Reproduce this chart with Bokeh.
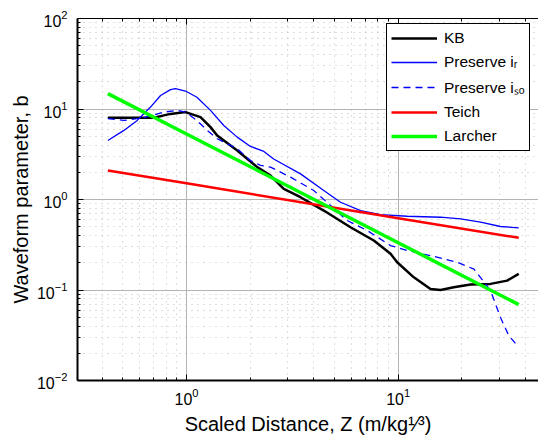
from bokeh.plotting import figure
from bokeh.models import (LogAxis, FixedTicker, LogTickFormatter, Legend, LegendItem, Range1d)
from bokeh.embed import file_html
from bokeh.resources import INLINE

# ---- data ----
kb_z = [0.425, 0.701, 0.782, 0.840, 0.989, 1.164, 1.298, 1.396, 1.736, 2.158, 2.494, 2.88,
        3.456, 4.45, 5.95, 7.67, 9.20, 9.89, 11.85, 14.21, 15.85, 18.31, 21.95, 27.29, 32.7, 37.1]
kb_b = [8.01, 8.0, 8.5, 8.83, 9.24, 8.13, 6.31, 5.10, 3.48, 2.28, 1.84, 1.31,
        1.06, 0.755, 0.494, 0.352, 0.251, 0.2025, 0.138, 0.1028, 0.100, 0.107, 0.1148, 0.1168, 0.127, 0.1507]

ir_z = [0.425, 0.506, 0.585, 0.676, 0.754, 0.840, 0.887, 0.989, 1.12, 1.298, 1.50, 1.736,
        2.005, 2.32, 2.58, 3.456, 4.45, 5.34, 6.64, 8.25, 11.03, 15.85, 19.7, 24.5, 30.4, 37.1]
ir_b = [4.49, 5.80, 7.48, 10.5, 14.1, 16.35, 16.8, 15.8, 13.5, 9.65, 6.58, 4.89,
        3.86, 3.40, 2.80, 1.92, 1.258, 0.933, 0.755, 0.682, 0.653, 0.637, 0.612, 0.561, 0.503, 0.486]

iso_z = [0.425, 0.506, 0.629, 0.782, 0.904, 0.989, 1.12, 1.252, 1.396, 1.736, 2.005, 2.237,
         2.494, 3.10, 3.99, 4.79, 5.74, 7.14, 9.20, 11.03, 14.21, 19.0, 22.8, 27.3, 30.4, 33.3, 37.1]
iso_b = [7.81, 7.48, 8.01, 9.24, 9.65, 9.24, 7.48, 5.80, 4.69, 3.64, 2.70, 2.38,
         2.28, 1.765, 1.258, 0.858, 0.586, 0.454, 0.310, 0.273, 0.240, 0.2025, 0.17, 0.0985, 0.0499, 0.0313, 0.0233]

teich_z = [0.425, 1.0, 10.0, 37.1]
teich_b = [2.09, 1.51, 0.622, 0.377]

larcher_z = [0.425, 1.0, 10.0, 37.1]
larcher_b = [14.8, 5.3, 0.333, 0.069]

x_major = [0.1, 1, 10, 100]
y_major = [0.01, 0.1, 1, 10, 100]
legend_labels = ["KB", "Preserve i\u1d63", "Preserve i\u209b\u2092", "Teich", "Larcher"]
x_label = "Scaled Distance, Z (m/kg\u00b9\u2044\u00b3)"
y_label = "Waveform parameter, b"

FONT = "Liberation Sans"

def minors(majors):
    return [m * k for m in majors for k in range(2, 10)]

p = figure(width=538, height=443, x_axis_type="log", y_axis_type="log",
           x_range=Range1d(0.3055, 46.0), y_range=Range1d(0.01, 100),
           output_backend="svg", toolbar_location=None,
           min_border_left=77, min_border_right=0, min_border_top=18, min_border_bottom=63)
p.outline_line_color = None
p.background_fill_color = "white"
p.border_fill_color = "white"

xt = FixedTicker(ticks=x_major, minor_ticks=minors(x_major))
yt = FixedTicker(ticks=y_major, minor_ticks=minors(y_major))

for ax, t in ((p.xaxis[0], xt), (p.yaxis[0], yt)):
    ax.ticker = t
    ax.formatter = LogTickFormatter()
    ax.axis_line_width = 2
    ax.axis_line_color = "black"
    ax.major_tick_in = 6
    ax.major_tick_out = 0
    ax.minor_tick_in = 3
    ax.minor_tick_out = 0
    ax.major_tick_line_color = "black"
    ax.minor_tick_line_color = "black"
    ax.major_label_text_font = FONT
    ax.major_label_text_font_size = "16px"
    ax.major_label_text_color = "black"
    ax.axis_label_text_font = FONT
    ax.axis_label_text_font_size = "20px"
    ax.axis_label_text_font_style = "normal"
    ax.axis_label_text_color = "black"

p.xaxis.major_label_standoff = 7
p.yaxis.major_label_standoff = 10
p.xaxis.axis_label = x_label
p.xaxis.axis_label_standoff = 5
p.yaxis.axis_label = y_label
p.yaxis.axis_label_standoff = 2

top = LogAxis(ticker=xt, formatter=LogTickFormatter(), axis_line_width=1, axis_line_color="black",
              major_tick_in=6, major_tick_out=0, minor_tick_in=3, minor_tick_out=0,
              major_label_text_font_size="2px", major_label_text_alpha=0,
              major_label_standoff=0)
p.add_layout(top, "above")

p.grid.grid_line_color = "#b4b4b4"
p.grid.grid_line_width = 1
p.grid.minor_grid_line_color = "#bdbdbd"
p.grid.minor_grid_line_dash = "1 5"

r1 = p.line(kb_z, kb_b, line_color="black", line_width=2.5)
r2 = p.line(ir_z, ir_b, line_color="#0000ff", line_width=1.3)
r3 = p.line(iso_z, iso_b, line_color="#0000ff", line_width=1.3, line_dash="7 5")
r4 = p.line(teich_z, teich_b, line_color="#ff0000", line_width=2.5)
r5 = p.line(larcher_z, larcher_b, line_color="#00ff00", line_width=3.5)

legend = Legend(items=[LegendItem(label=l, renderers=[r]) for l, r in
                       zip(legend_labels, [r1, r2, r3, r4, r5])],
                location=(309, 229), padding=4, spacing=4, glyph_width=46, glyph_height=20,
                label_height=20, label_width=20, label_standoff=7, margin=0,
                label_text_font=FONT, label_text_font_size="15.5px", label_text_color="black",
                border_line_color="black", border_line_width=1, border_line_alpha=1,
                background_fill_color="white", background_fill_alpha=1)
p.add_layout(legend)

open("out.html", "w").write(file_html(p, INLINE))
